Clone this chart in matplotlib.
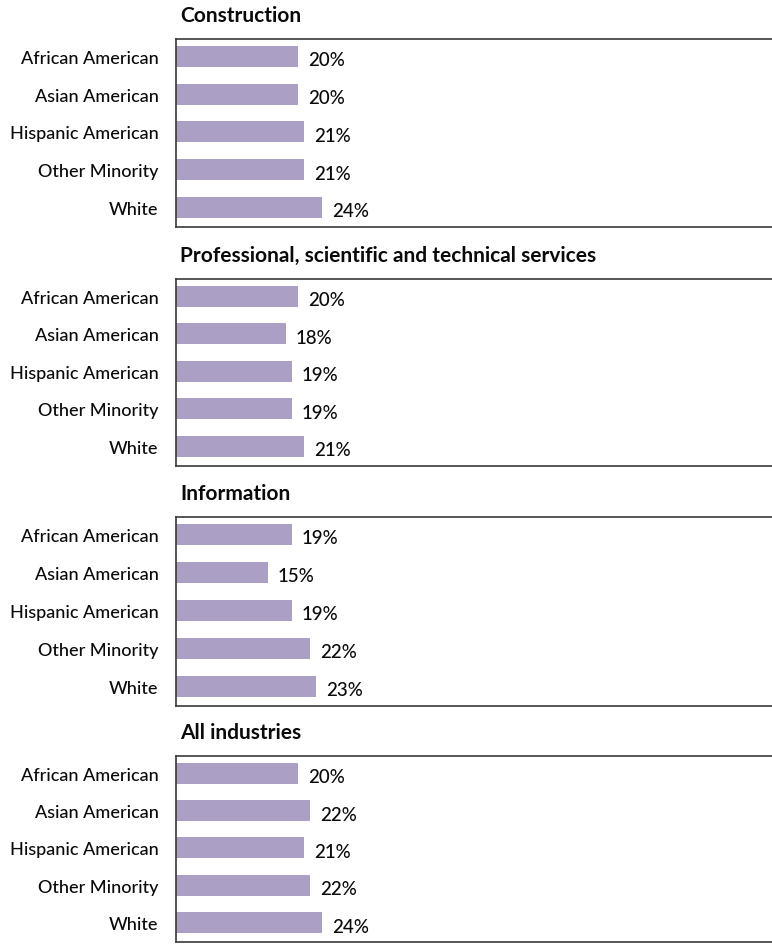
import matplotlib
matplotlib.use("Agg")
import matplotlib.pyplot as plt

groups = ["African American", "Asian American", "Hispanic American", "Other Minority", "White"]
panel_titles = ["Construction",
                "Professional, scientific and technical services",
                "Information",
                "All industries"]
construction = [20, 20, 21, 21, 24]
professional = [20, 18, 19, 19, 21]
information = [19, 15, 19, 22, 23]
all_industries = [20, 22, 21, 22, 24]
panel_values = [construction, professional, information, all_industries]

plt.rcParams["font.family"] = ["Lato", "DejaVu Sans"]

W, H = 772, 945
fig = plt.figure(figsize=(W / 100, H / 100), dpi=100)

bar_color = "#ab9fc6"
ax_left_px = 176
px_per_unit = 6.1
xmax = 100
ax_width_px = px_per_unit * xmax
# top and bottom pixel of each panel frame
frames = [(40, 228), (280, 467), (518, 707), (757, 943)]

for title, vals, (top, bot) in zip(panel_titles, panel_values, frames):
    ax = fig.add_axes([ax_left_px / W, 1 - bot / H, ax_width_px / W, (bot - top) / H])
    y = list(range(len(groups)))
    ax.barh(y, vals, height=0.56, color=bar_color, edgecolor="none")
    ax.set_xlim(0, xmax)
    ax.set_ylim(4.52, -0.46)
    ax.set_yticks(y)
    ax.set_yticklabels(groups, fontsize=13, color="#0a0a0a", fontweight="medium")
    ax.tick_params(axis="y", length=0, pad=12.5)
    ax.set_xticks([])
    for s in ["top", "bottom", "left", "right"]:
        ax.spines[s].set_color("#3a3a3a")
        ax.spines[s].set_linewidth(1.2)
    for yi, v in zip(y, vals):
        ax.annotate(f"{v}%", xy=(v, yi), xytext=(7, -2.5), textcoords="offset points",
                    va="center", ha="left", fontsize=13.5, color="#0a0a0a",
                    fontweight="medium")
    ax.text(0.007, 1.0 + 24 / (bot - top), title, transform=ax.transAxes,
            ha="left", va="center", fontsize=15, fontweight="bold", color="#0a0a0a")

fig.savefig("out.png", dpi=100, facecolor="white")
